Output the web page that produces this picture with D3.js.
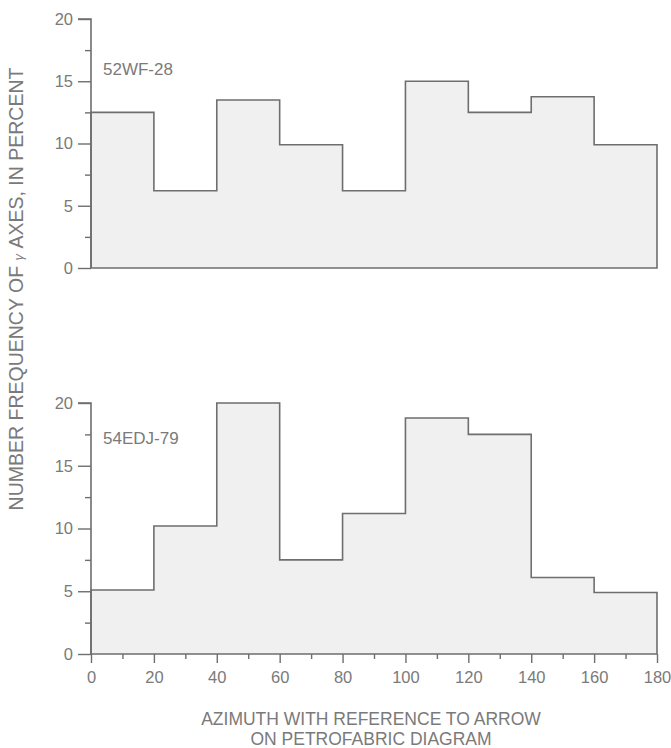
<!DOCTYPE html>
<html>
<head>
<meta charset="utf-8">
<script src="https://cdn.jsdelivr.net/npm/d3@7"></script>
<style>
  html, body { margin: 0; padding: 0; background: #fff; }
  svg { display: block; font-family: "Liberation Sans", Arial, sans-serif; }
</style>
</head>
<body>
<svg id="chart" width="671" height="748"></svg>
<script>
// ---- data ----
const binEdges = [0, 20, 40, 60, 80, 100, 120, 140, 160, 180];
const sample1Name = "52WF-28";
const sample1Values = [12.5, 6.2, 13.5, 9.9, 6.2, 15.0, 12.5, 13.75, 9.9];
const sample2Name = "54EDJ-79";
const sample2Values = [5.1, 10.2, 20.0, 7.5, 11.2, 18.8, 17.5, 6.1, 4.9];
const yMajorTicks = [0, 5, 10, 15, 20];
const yMinorTicks = [2.5, 7.5, 12.5, 17.5];
const xMajorTicks = [0, 20, 40, 60, 80, 100, 120, 140, 160, 180];
const xMinorTicks = [10, 30, 50, 70, 90, 110, 130, 150, 170];
const xTitleLines = ["AZIMUTH WITH REFERENCE TO ARROW", "ON PETROFABRIC DIAGRAM"];

// ---- layout ----
const svg = d3.select("#chart");
const textColor = "#7a7a7a";
const lineColor = "#6e6e6e";
const fillColor = "#f0f0f0";

const x = d3.scaleLinear().domain([0, 180]).range([91, 657]);

const panels = [
  { name: sample1Name, values: sample1Values, y: d3.scaleLinear().domain([0, 20]).range([268, 19]), xTicks: false, labelDy: 56 },
  { name: sample2Name, values: sample2Values, y: d3.scaleLinear().domain([0, 20]).range([654, 403]), xTicks: true, labelDy: 41 }
];

panels.forEach(p => {
  const g = svg.append("g");
  const pts = binEdges.map((e, i) => ({ x: e, v: i < p.values.length ? p.values[i] : p.values[p.values.length - 1] }));
  const area = d3.area()
    .x(d => x(d.x))
    .y0(p.y(0))
    .y1(d => p.y(d.v))
    .curve(d3.curveStepAfter);

  g.append("path")
    .datum(pts)
    .attr("d", area)
    .attr("fill", fillColor)
    .attr("stroke", lineColor)
    .attr("stroke-width", 1.6)
    .attr("stroke-linejoin", "miter");

  // y axis
  const yAxis = d3.axisLeft(p.y).tickValues(yMajorTicks).tickSize(13).tickPadding(5).tickFormat(d3.format("d"));
  const ya = g.append("g").attr("transform", `translate(${x(0)},0)`).call(yAxis);
  ya.select(".domain").attr("stroke", lineColor).attr("stroke-width", 1.6).attr("d", `M0,${p.y(0)}V${p.y(20)}H-13`);
  ya.selectAll(".tick line").attr("stroke", lineColor).attr("stroke-width", 1.4);
  ya.selectAll(".tick text").attr("fill", textColor).attr("font-size", 16.5).attr("font-family", "Liberation Sans, Arial, sans-serif");
  const yMinor = d3.axisLeft(p.y).tickValues(yMinorTicks).tickSize(6).tickFormat("");
  const ym = g.append("g").attr("transform", `translate(${x(0)},0)`).call(yMinor);
  ym.select(".domain").remove();
  ym.selectAll(".tick line").attr("stroke", lineColor).attr("stroke-width", 1.4);

  if (p.xTicks) {
    const xAxis = d3.axisBottom(x).tickValues(xMajorTicks).tickSize(9).tickPadding(8).tickFormat(d3.format("d"));
    const xa = g.append("g").attr("transform", `translate(0,${p.y(0)})`).call(xAxis);
    xa.select(".domain").remove();
    xa.selectAll(".tick line").attr("stroke", lineColor).attr("stroke-width", 1.4);
    xa.selectAll(".tick text").attr("fill", textColor).attr("font-size", 16.5).attr("font-family", "Liberation Sans, Arial, sans-serif");
    const xMinor = d3.axisBottom(x).tickValues(xMinorTicks).tickSize(5).tickFormat("");
    const xm = g.append("g").attr("transform", `translate(0,${p.y(0)})`).call(xMinor);
    xm.select(".domain").remove();
    xm.selectAll(".tick line").attr("stroke", lineColor).attr("stroke-width", 1.4);
  }

  // panel label
  g.append("text")
    .attr("x", x(0) + 12)
    .attr("y", p.y(20) + p.labelDy)
    .attr("fill", textColor)
    .attr("font-size", 17)
    .text(p.name);
});

// y axis title
const yt = svg.append("text")
  .attr("transform", "translate(23,289) rotate(-90)")
  .attr("text-anchor", "middle")
  .attr("fill", textColor)
  .attr("font-size", 19.5);
yt.append("tspan").text("NUMBER FREQUENCY OF ");
yt.append("tspan").attr("font-size", 13).attr("font-style", "italic").text("γ");
yt.append("tspan").text(" AXES, IN PERCENT");

// x axis title
svg.append("g").selectAll("text")
  .data(xTitleLines)
  .join("text")
  .attr("x", 371)
  .attr("y", (d, i) => 725 + i * 20)
  .attr("text-anchor", "middle")
  .attr("fill", textColor)
  .attr("font-size", 17.5)
  .text(d => d);
</script>
</body>
</html>
